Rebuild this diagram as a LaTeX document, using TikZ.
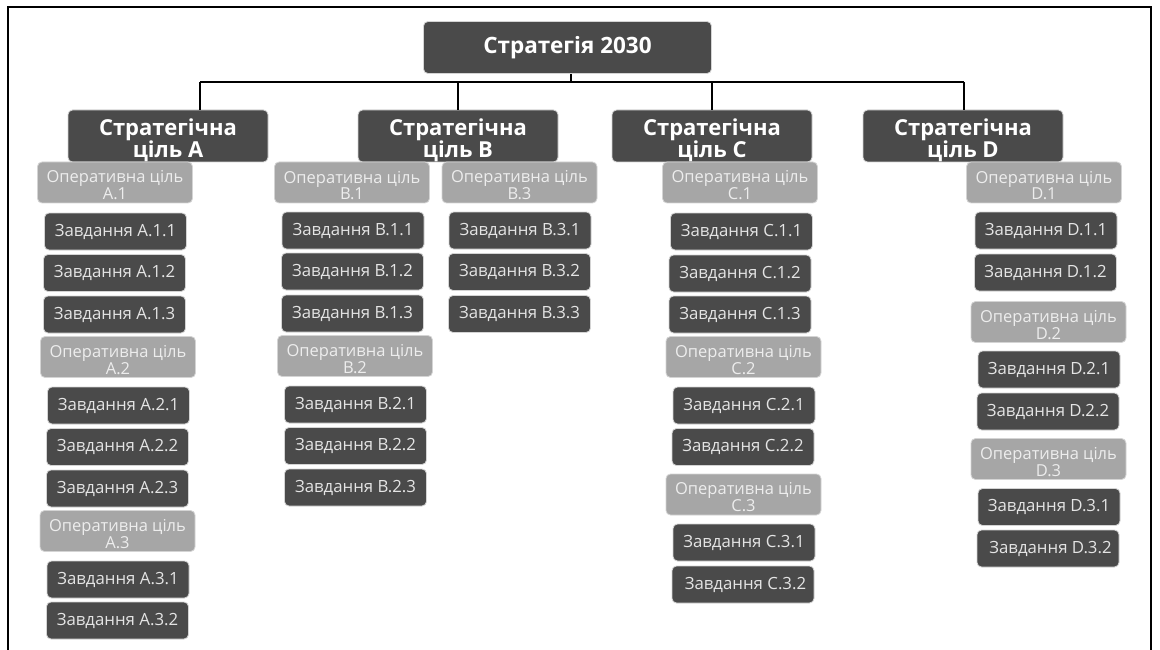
\documentclass[tikz,border=0pt]{standalone}
\usepackage{fontspec}
\setmainfont{Open Sans}
\definecolor{dk}{HTML}{4A4A4A}
\definecolor{op}{HTML}{A6A6A6}
\definecolor{tl}{HTML}{E4E4E4}
\definecolor{ol}{HTML}{EDEDED}
\definecolor{bd}{HTML}{D4D4D4}
\newcommand{\twoln}[3]{\raisebox{-#1}[\height][\depth]{\begin{tabular}{@{}c@{}}#2\\#3\end{tabular}}}
\begin{document}
\begin{tikzpicture}[x=1pt,y=-1pt,
  box/.style={rounded corners=4.5pt, draw=bd, line width=0.8pt, inner sep=0pt, align=center},
  top/.style={box, fill=dk, text=white, minimum width=288pt, minimum height=52pt, font=\fontsize{22.5}{22}\selectfont\bfseries},
  strat/.style={box, fill=dk, text=white, minimum width=200pt, minimum height=52pt, font=\fontsize{22}{19.5}\selectfont\bfseries},
  opg/.style={box, fill=op, text=ol, minimum width=155pt, minimum height=41pt, font=\fontsize{16.5}{15.5}\selectfont},
  task/.style={box, fill=dk, text=tl, minimum width=142pt, minimum height=37pt, font=\fontsize{16.8}{18}\selectfont},
  conn/.style={line width=2pt, black}]
\useasboundingbox (0,0) rectangle (1160,650);
\draw[line width=1.6pt] (8,650) -- (8,7) -- (1151,7) -- (1151,650);

\node[top] (top) at (567.5,47.5) {Стратегія 2030};
\node[strat] (sA) at (168,136) {\twoln{5pt}{Стратегічна}{ціль A}};
\node[strat] (sB) at (458,136) {\twoln{5pt}{Стратегічна}{ціль B}};
\node[strat] (sC) at (712,136) {\twoln{5pt}{Стратегічна}{ціль C}};
\node[strat] (sD) at (963,136) {\twoln{5pt}{Стратегічна}{ціль D}};

\coordinate (bl) at (200,82);
\coordinate (br) at (964,82);
\coordinate (tp) at (571,74);
\draw[conn] (bl) -- (br);
\draw[conn] (tp) -- (tp |- bl);
\draw[conn] (bl) -- (bl |- sA.north);
\draw[conn] (sB.north |- bl) -- (sB.north);
\draw[conn] (sC.north |- bl) -- (sC.north);
\draw[conn] (br) -- (br |- sD.north);

% column A
\node[opg] (oA1) at (115,182.5) {\twoln{5pt}{Оперативна ціль}{A.1}};
\node[task] (tA11) at (115.5,231.5) {Завдання A.1.1};
\node[task] (tA12) at (114.5,273) {Завдання A.1.2};
\node[task] (tA13) at (114.5,314.5) {Завдання A.1.3};
\node[opg] (oA2) at (118,357) {\twoln{5pt}{Оперативна ціль}{A.2}};
\node[task] (tA21) at (118.5,405.5) {Завдання A.2.1};
\node[task] (tA22) at (117.5,447) {Завдання A.2.2};
\node[task] (tA23) at (117.5,488.5) {Завдання A.2.3};
\node[opg] (oA3) at (117.5,531) {\twoln{5pt}{Оперативна ціль}{A.3}};
\node[task] (tA31) at (118,579.5) {Завдання A.3.1};
\node[task] (tA32) at (117.5,620.5) {Завдання A.3.2};

% column B
\node[opg] (oB1) at (352,182.5) {\twoln{5pt}{Оперативна ціль}{B.1}};
\node[task] (tB11) at (353,230.5) {Завдання B.1.1};
\node[task] (tB12) at (352.5,271.5) {Завдання B.1.2};
\node[task] (tB13) at (352.5,313.5) {Завдання B.1.3};
\node[opg] (oB2) at (355,356) {\twoln{5pt}{Оперативна ціль}{B.2}};
\node[task] (tB21) at (355.5,404.5) {Завдання B.2.1};
\node[task] (tB22) at (355.5,446) {Завдання B.2.2};
\node[task] (tB23) at (355.5,487.5) {Завдання B.2.3};
\node[opg] (oB3) at (519.5,182.5) {\twoln{5pt}{Оперативна ціль}{B.3}};
\node[task] (tB31) at (520,230.5) {Завдання B.3.1};
\node[task] (tB32) at (519.5,272) {Завдання B.3.2};
\node[task] (tB33) at (519.5,314) {Завдання B.3.3};

% column C
\node[opg] (oC1) at (740,182.5) {\twoln{5pt}{Оперативна ціль}{C.1}};
\node[task] (tC11) at (741.5,231.5) {Завдання C.1.1};
\node[task] (tC12) at (740,273.5) {Завдання C.1.2};
\node[task] (tC13) at (740,314.5) {Завдання C.1.3};
\node[opg] (oC2) at (743.5,357) {\twoln{5pt}{Оперативна ціль}{C.2}};
\node[task] (tC21) at (744,405.5) {Завдання C.2.1};
\node[task] (tC22) at (743,447) {Завдання C.2.2};
\node[opg] (oC3) at (743.5,494.5) {\twoln{5pt}{Оперативна ціль}{C.3}};
\node[task] (tC31) at (744,542.5) {Завдання C.3.1};
\node[task] (tC32) at (743,584.5) {\hspace{5pt}Завдання C.3.2};

% column D
\node[opg] (oD1) at (1044,182.5) {\twoln{5pt}{Оперативна ціль}{D.1}};
\node[task] (tD11) at (1046,230.5) {Завдання D.1.1};
\node[task] (tD12) at (1045.5,272.5) {Завдання D.1.2};
\node[opg] (oD2) at (1048.5,322) {\twoln{5pt}{Оперативна ціль}{D.2}};
\node[task] (tD21) at (1049,369.5) {Завдання D.2.1};
\node[task] (tD22) at (1048,411.5) {Завдання D.2.2};
\node[opg] (oD3) at (1048.5,459) {\twoln{5pt}{Оперативна ціль}{D.3}};
\node[task] (tD31) at (1049,507) {Завдання D.3.1};
\node[task] (tD32) at (1048,548.5) {\hspace{5pt}Завдання D.3.2};
\end{tikzpicture}
\end{document}
